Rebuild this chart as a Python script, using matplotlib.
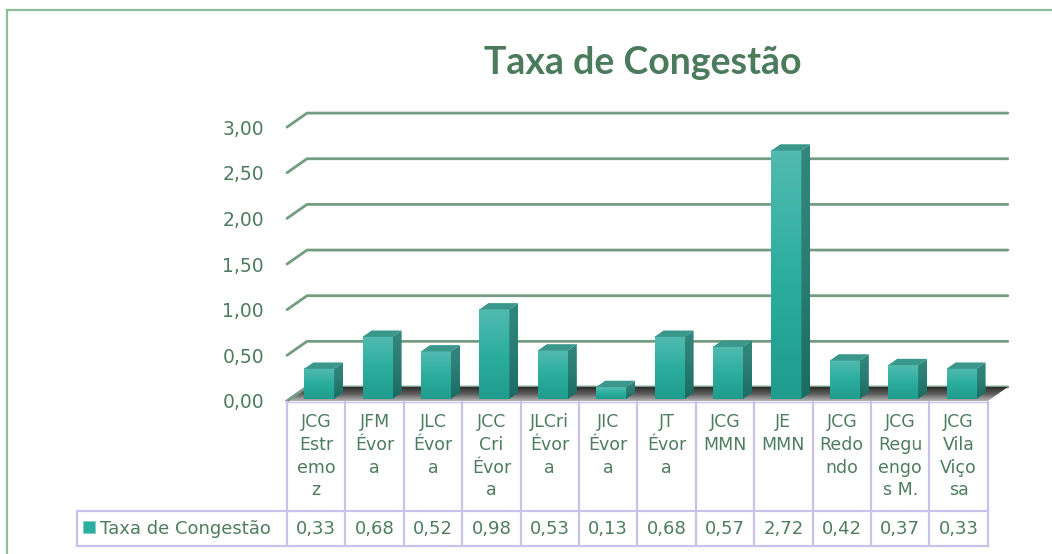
import matplotlib
matplotlib.use('Agg')
import matplotlib.pyplot as plt
import numpy as np
from matplotlib.patches import Polygon, Rectangle
from matplotlib.lines import Line2D
from matplotlib.colors import LinearSegmentedColormap

# ---------------- data ----------------
categories = ["JCG\nEstr\nemo\nz", "JFM\nÉvor\na", "JLC\nÉvor\na", "JCC\nCri\nÉvor\na",
              "JLCri\nÉvor\na", "JIC\nÉvor\na", "JT\nÉvor\na", "JCG\nMMN", "JE\nMMN",
              "JCG\nRedo\nndo", "JCG\nRegu\nengo\ns M.", "JCG\nVila\nViço\nsa"]
values = [0.33, 0.68, 0.52, 0.98, 0.53, 0.13, 0.68, 0.57, 2.72, 0.42, 0.37, 0.33]
series_name = "Taxa de Congestão"
title = "Taxa de Congestão"
yticks = [0.0, 0.5, 1.0, 1.5, 2.0, 2.5, 3.0]

def fmt(v):
    return f"{v:.2f}".replace(".", ",")

# ---------------- layout ----------------
W, H, DPI = 1052, 554, 100
TFONT = ['Lato', 'DejaVu Sans']
FONT = ['DejaVu Sans']
TXT = '#4E7C60'
GRID = '#739C80'
TABLE = '#C9C3EC'

X0PX, CW = 287.0, 58.4      # left edge of first category, category width (px)
Y0PX, VU = 401.0, 91.3      # baseline (px from top), px per unit

def px2x(px):
    return (px - X0PX) / CW - 0.5

def py2v(py):
    return (Y0PX - py) / VU

DX, DY = 20.0 / CW, 14.0 / VU   # wall depth
D0, D1 = 0.15, 0.60             # bar depth range
HW = 0.257                      # half bar width

n = len(values)
fig = plt.figure(figsize=(W / DPI, H / DPI), dpi=DPI)
ax = fig.add_axes([0, 0, 1, 1])
ax.axis('off')
XL = (px2x(0), px2x(W))
YL = (py2v(H), py2v(0))

# gridlines (front-left diagonal + back wall)
for t in yticks:
    ax.plot([-0.5, -0.5 + DX, n - 0.5 + DX], [t, t + DY, t + DY],
            color=GRID, lw=2.0, solid_capstyle='round', zorder=1)
    ax.text(px2x(264), t - 2 / VU, fmt(t), ha='right', va='center', fontsize=13.5,
            color=TXT, family=FONT)

# floor
floor_cmap = LinearSegmentedColormap.from_list('floor', ['#b5b5b5', '#5e5e5e', '#2e2e2e'])
floor_poly = Polygon([(-0.5, 0), (n - 0.5, 0), (n - 0.5 + DX, DY), (-0.5 + DX, DY)],
                     closed=True, facecolor='none', edgecolor='none', zorder=2)
ax.add_patch(floor_poly)
grad = np.linspace(0, 1, 64).reshape(-1, 1)
im = ax.imshow(grad, extent=[-0.5, n - 0.5 + DX, 0, DY], origin='lower',
               aspect='auto', cmap=floor_cmap, zorder=2)
im.set_clip_path(floor_poly)
ax.plot([-0.5, -0.5 + DX], [0, DY], color=GRID, lw=2.0, zorder=2.5)

# bars
front_cmap = LinearSegmentedColormap.from_list('front', ['#1F9C8D', '#2BAE9F', '#52BAB0'])
side_cmap = LinearSegmentedColormap.from_list('side', ['#1A6B61', '#2A7D73', '#32877C'])
ddx, ddy = (D1 - D0) * DX, (D1 - D0) * DY
for i, v in enumerate(values):
    x0 = i - HW + D0 * DX
    x1 = i + HW + D0 * DX
    y0 = D0 * DY
    y1 = v + D0 * DY
    ax.imshow(grad, extent=[x0, x1, y0, y1], origin='lower', aspect='auto',
              cmap=front_cmap, zorder=4)
    side = Polygon([(x1, y0), (x1 + ddx, y0 + ddy), (x1 + ddx, y1 + ddy), (x1, y1)],
                   closed=True, facecolor='none', edgecolor='none', zorder=4)
    ax.add_patch(side)
    ims = ax.imshow(grad, extent=[x1, x1 + ddx, y0, y1 + ddy], origin='lower',
                    aspect='auto', cmap=side_cmap, zorder=4)
    ims.set_clip_path(side)
    top = Polygon([(x0, y1), (x1, y1), (x1 + ddx, y1 + ddy), (x0 + ddx, y1 + ddy)],
                  closed=True, facecolor='#3A978B', edgecolor='none', zorder=4.5)
    ax.add_patch(top)

# table
t_top, t_mid, t_bot = py2v(402), py2v(511), py2v(546)
x_left = px2x(77)
lw_t = 1.6
for k in range(n + 1):
    ax.plot([k - 0.5, k - 0.5], [t_top, t_bot], color=TABLE, lw=lw_t, zorder=5)
ax.plot([-0.5, n - 0.5], [t_top, t_top], color=TABLE, lw=1.0, zorder=5)
ax.plot([x_left, n - 0.5], [t_mid, t_mid], color=TABLE, lw=lw_t, zorder=5)
ax.plot([x_left, n - 0.5], [t_bot, t_bot], color=TABLE, lw=lw_t, zorder=5)
ax.plot([x_left, x_left], [t_mid, t_bot], color=TABLE, lw=lw_t, zorder=5)

for i, (c, v) in enumerate(zip(categories, values)):
    ax.text(i, py2v(413), c, ha='center', va='top', fontsize=12.5, linespacing=1.34,
            color=TXT, family=FONT, zorder=6)
    ax.text(i, (t_mid + t_bot) / 2, fmt(v), ha='center', va='center', fontsize=13,
            color=TXT, family=FONT, zorder=6)

# legend key in row header
ax.add_patch(Rectangle((px2x(83), py2v(533)), 12 / CW, 12 / VU,
                       facecolor='#2BAE9F', edgecolor='#7FCFC5', lw=0.6, zorder=6))
ax.text(px2x(100), (t_mid + t_bot) / 2, series_name, ha='left', va='center',
        fontsize=13, color=TXT, family=FONT, zorder=6)

ax.set_xlim(*XL)
ax.set_ylim(*YL)

# title
fig.text(643 / W, 1 - 63 / H, title, ha='center', va='center', fontsize=27,
         fontweight='bold', color='#4B7B5D', family=TFONT)

# outer frame
fig.add_artist(Line2D([7 / W, 7 / W], [0, 1 - 10 / H], transform=fig.transFigure,
                      color='#8DBE9C', lw=1.6))
fig.add_artist(Line2D([7 / W, 1], [1 - 10 / H, 1 - 10 / H], transform=fig.transFigure,
                      color='#8DBE9C', lw=1.6))

fig.savefig('out.png', dpi=DPI)
